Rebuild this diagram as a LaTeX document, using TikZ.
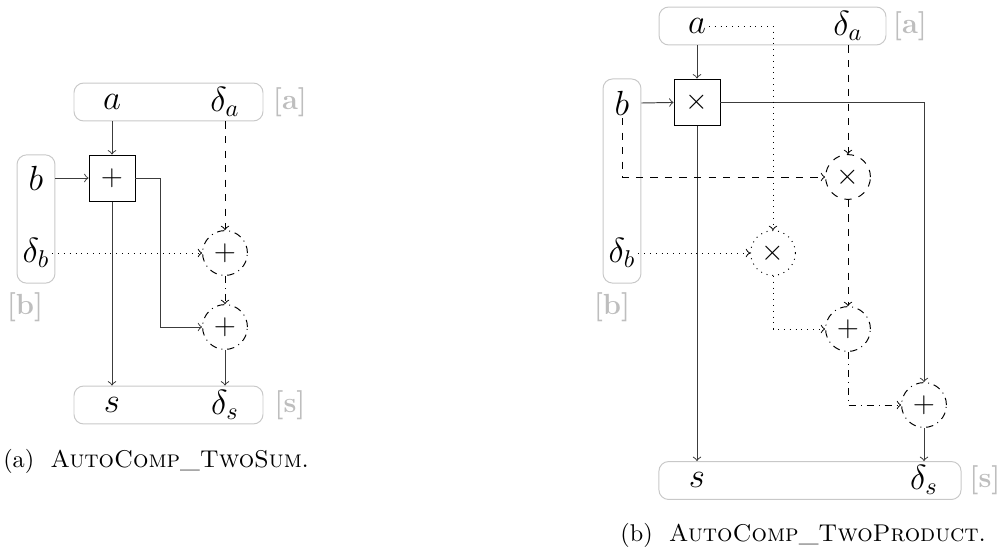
\documentclass[tikz,border=0pt]{standalone}
\usetikzlibrary{positioning}
\definecolor{boxgray}{RGB}{200,200,200}
\definecolor{taggray}{RGB}{190,190,190}
\definecolor{wire}{RGB}{60,60,60}
\begin{document}
\begin{tikzpicture}[
  x=0.0145cm, y=-0.0145cm,
  >=to,
  varbox/.style={draw=boxgray,rounded corners=4pt,thin},
  varlabel/.style={inner sep=1pt,font=\Large},
  tagname/.style={text=taggray,font=\large\bfseries},
  opbox/.style={draw,thin,minimum size=0.667cm,inner sep=0pt,font=\large},
  opcirc/.style={circle,draw,thin,minimum size=0.65cm,inner sep=0pt,font=\large},
  captext/.style={font=\normalsize}
]
  \useasboundingbox (0,0) rectangle (1005,550);

  \node[varbox,minimum width=2.74cm,minimum height=0.55cm] (A1) at (168.5,102) {};
  \node[varlabel] (a1)  at (112,102) {$a$};
  \node[varlabel] (da1) at (225,102) {$\delta_a$};
  \node[tagname]  (ta1) at (290,102) {[a]};
  \node[varbox,minimum width=0.55cm,minimum height=1.86cm] (B1) at (36,219) {};
  \node[varlabel] (b1)  at (36,178) {$b$};
  \node[varlabel] (db1) at (36,253) {$\delta_b$};
  \node[tagname]  (tb1) at (25,307) {[b]};
  \node[opbox] (add1) at (112,178) {$+$};
  \node[opcirc,dashdotted] (c1) at (225,253) {$+$};
  \node[opcirc,dashdotted] (c2) at (225,327) {$+$};
  \node[varbox,minimum width=2.74cm,minimum height=0.55cm] (S1) at (168.5,405) {};
  \node[varlabel] (s1)  at (112,405) {$s$};
  \node[varlabel] (ds1) at (225,405) {$\delta_s$};
  \node[tagname]  (ts1) at (290,405) {[s]};
  \node[captext] (cap1) at (156,461) {(a)~~\textsc{AutoComp\_TwoSum}.};

  \draw[->,wire] (A1.south -| add1) -- (add1);
  \draw[->,wire] (B1.east |- b1) -- (add1);
  \draw[->,wire] (add1.east) -- ++(25,0) |- (c2);
  \draw[->,wire] (add1) -- (add1 |- S1.north);
  \draw[->,dashed] (A1.south -| da1) -- (c1);
  \draw[->,dotted] (db1) -- (c1);
  \draw[->,dashdotted] (c1) -- (c2);
  \draw[->,wire] (c2) -- (c2 |- S1.north);

  \node[varbox,minimum width=3.29cm,minimum height=0.55cm] (A2) at (772.5,26) {};
  \node[varlabel] (a2)  at (697,26) {$a$};
  \node[varlabel] (da2) at (848,26) {$\delta_a$};
  \node[tagname]  (ta2) at (910,26) {[a]};
  \node[varbox,minimum width=0.55cm,minimum height=2.96cm] (B2) at (622,181) {};
  \node[varlabel] (b2)  at (622,103) {$b$};
  \node[varlabel] (db2) at (622,253) {$\delta_b$};
  \node[tagname]  (tb2) at (612,307) {[b]};
  \node[opbox] (mul2) at (697,102) {$\times$};
  \node[opcirc,dashed] (m2) at (848,177) {$\times$};
  \node[opcirc,dotted] (m3) at (773,253) {$\times$};
  \node[opcirc,dashdotted] (p2) at (848,329) {$+$};
  \node[opcirc,dashdotted] (p3) at (924,405) {$+$};
  \node[varbox,minimum width=4.38cm,minimum height=0.55cm] (S2) at (810,480.5) {};
  \node[varlabel] (s2)  at (697,480) {$s$};
  \node[varlabel] (ds2) at (924,480) {$\delta_s$};
  \node[tagname]  (ts2) at (985,480) {[s]};
  \node[captext] (cap2) at (803,535) {(b)~~\textsc{AutoComp\_TwoProduct}.};

  \draw[->,wire] (A2.south -| mul2) -- (mul2);
  \draw[->,wire] (B2.east |- b2) -- (mul2);
  \draw[->,wire] (mul2) -| (p3);
  \draw[->,wire] (mul2) -- (mul2 |- S2.north);
  \draw[->,dotted] (a2) -| (m3);
  \draw[->,dashed] (A2.south -| da2) -- (m2);
  \draw[->,dashed] (b2) |- (m2);
  \draw[->,dotted] (db2) -- (m3);
  \draw[->,dashed] (m2) -- (p2);
  \draw[->,dotted] (m3) |- (p2);
  \draw[->,dashdotted] (p2) |- (p3);
  \draw[->,wire] (p3) -- (p3 |- S2.north);
\end{tikzpicture}
\end{document}
